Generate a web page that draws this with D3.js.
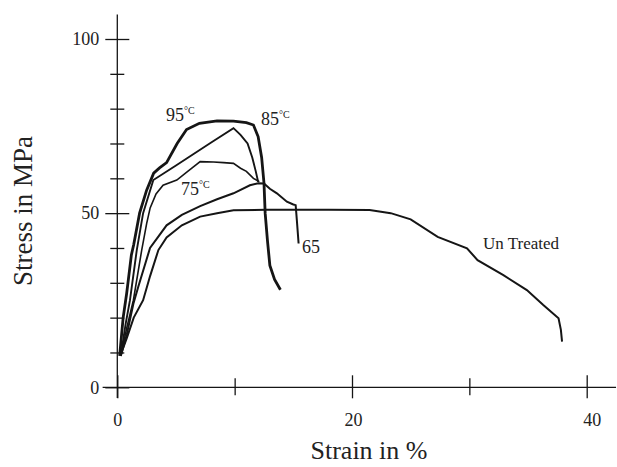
<!DOCTYPE html>
<html>
<head>
<meta charset="utf-8">
<script src="https://cdn.jsdelivr.net/npm/d3@7"></script>
<style>
  html, body { margin: 0; padding: 0; background: #fff; }
  svg { display: block; }
  text { font-family: "Liberation Serif", "Times New Roman", serif; fill: #222; }
</style>
</head>
<body>
<svg id="chart" width="617" height="467"></svg>
<script>
// ---- data (strain %, stress MPa) ----
const strain95 = [0.2, 0.5, 0.8, 1.2, 1.4, 1.9, 2.5, 3.1, 3.6, 4.2, 5.1, 5.9, 7.0, 8.5, 9.9, 11.0, 11.6, 12.0, 12.3, 12.5, 12.6, 12.8, 13.0, 13.4, 13.9];
const stress95 = [9, 20, 27, 38, 41, 50, 56.6, 61.5, 63, 64.5, 70, 74, 75.8, 76.5, 76.4, 76, 75.3, 72, 66, 58.6, 50, 42, 35, 31, 28];

const strain85 = [0.3, 0.7, 1.08, 1.66, 2.2, 3.07, 5.0, 6.5, 8.0, 9.9, 10.5, 11.1, 11.5, 11.8, 12.0];
const stress85 = [9, 18, 25, 39.4, 50, 59.5, 63.7, 67, 70.3, 74.4, 72.5, 70, 66, 62, 59];

const strain75 = [0.3, 0.8, 1.37, 2.08, 2.5, 2.8, 3.3, 3.9, 5.07, 6.0, 7.06, 8.2, 9.05, 9.9, 10.5, 11.0, 11.6, 12.1];
const stress75 = [9, 17, 25, 39.4, 47, 51.5, 55.5, 58, 59.5, 62, 64.8, 64.7, 64.5, 64.3, 62.9, 62, 60, 59];

const strain65 = [0.3, 0.8, 1.37, 1.8, 2.79, 4.2, 5.5, 7.06, 8.5, 9.9, 11.3, 12.0, 12.5, 13.0, 13.6, 14.45, 15.0, 15.2, 15.3, 15.45];
const stress65 = [9, 15, 24, 29, 40, 46.5, 49.5, 52, 54, 55.7, 58, 58.6, 58.5, 57, 55.7, 53.3, 52.5, 52.3, 48, 41.3];

const strainUT = [0.25, 0.8, 1.4, 2.2, 2.8, 3.5, 4.2, 5.5, 7.06, 8.5, 9.9, 12.7, 15, 18, 21.5, 23.3, 25.0, 27.3, 29.8, 30.7, 32.9, 34.9, 36.3, 37.6, 37.8, 37.9];
const stressUT = [9, 14, 20, 25, 32, 39.4, 43, 46.5, 49, 50, 50.8, 51, 51, 51, 50.9, 50, 48.2, 43.2, 39.9, 36.5, 32.2, 27.9, 23.6, 19.8, 16.5, 13.1];

const seriesNames = ["95", "85", "75", "65", "Un Treated"];
const xTicks = [0, 10, 20, 30, 40];
const xTickLabels = ["0", "", "20", "", "40"];
const yTicks = [0, 10, 20, 30, 40, 50, 60, 70, 80, 90, 100];
const yTickLabels = ["0", "", "", "", "", "50", "", "", "", "", "100"];

// ---- drawing ----
const svg = d3.select("#chart");
const x = d3.scaleLinear().domain([0, 40]).range([117.3, 586.7]);
const y = d3.scaleLinear().domain([0, 100]).range([387.3, 39]);

const ink = "#151515";

// axis lines
svg.append("line").attr("x1", x(-1.25)).attr("x2", x(42.5))
  .attr("y1", y(0)).attr("y2", y(0)).attr("stroke", ink).attr("stroke-width", 1.3);
svg.append("line").attr("x1", x(0)).attr("x2", x(0))
  .attr("y1", y(-3.1)).attr("y2", y(107)).attr("stroke", ink).attr("stroke-width", 1.3);

// x axis
const xAxis = d3.axisBottom(x).tickValues(xTicks)
  .tickFormat((d, i) => xTickLabels[i]).tickSize(0).tickPadding(0);
const gx = svg.append("g").attr("transform", `translate(0,${y(0)})`).call(xAxis);
gx.select(".domain").remove();
gx.selectAll(".tick line")
  .attr("y1", (d) => d % 20 === 0 ? -12 : -9)
  .attr("y2", (d) => d % 20 === 0 ? 11 : 8)
  .attr("stroke", ink).attr("stroke-width", 1.3);
gx.selectAll(".tick text").attr("y", 39).attr("dy", 0)
  .attr("dx", (d) => d === 40 ? 5 : (d === 20 ? 1 : 0))
  .style("font-size", "18px").style("font-family", "Liberation Serif").attr("fill", "#222");

// y axis
const yAxis = d3.axisLeft(y).tickValues(yTicks)
  .tickFormat((d, i) => yTickLabels[i]).tickSize(0).tickPadding(0);
const gy = svg.append("g").attr("transform", `translate(${x(0)},0)`).call(yAxis);
gy.select(".domain").remove();
gy.selectAll(".tick line")
  .attr("x1", (d) => d % 50 === 0 ? -12 : -7)
  .attr("x2", (d) => d % 50 === 0 ? 12 : 7)
  .attr("stroke", ink).attr("stroke-width", 1.3);
gy.selectAll(".tick text").attr("x", -18)
  .style("font-size", "18px").style("font-family", "Liberation Serif").attr("fill", "#222");

// curves
const line = d3.line().x(d => x(d[0])).y(d => y(d[1])).curve(d3.curveLinear);
const curves = [
  { name: seriesNames[0], xs: strain95, ys: stress95, w: 2.8 },
  { name: seriesNames[1], xs: strain85, ys: stress85, w: 1.9 },
  { name: seriesNames[2], xs: strain75, ys: stress75, w: 1.6 },
  { name: seriesNames[3], xs: strain65, ys: stress65, w: 2.0 },
  { name: seriesNames[4], xs: strainUT, ys: stressUT, w: 2.0 }
];
curves.forEach(c => {
  svg.append("path")
    .datum(c.xs.map((v, i) => [v, c.ys[i]]))
    .attr("d", line)
    .attr("fill", "none")
    .attr("stroke", ink)
    .attr("stroke-width", c.w)
    .attr("stroke-linejoin", "miter");
});

// curve labels
function tempLabel(px, py, num) {
  const t = svg.append("text").attr("x", px).attr("y", py).style("font-size", "18px");
  t.append("tspan").text(num);
  t.append("tspan").attr("dy", -7).style("font-size", "10px").text("°C");
}
tempLabel(166, 121, "95");
tempLabel(261, 125, "85");
tempLabel(181, 195, "75");
svg.append("text").attr("x", 302).attr("y", 253).style("font-size", "18px").text("65");
svg.append("text").attr("x", 483).attr("y", 249).style("font-size", "17px").text("Un Treated");

// axis titles
svg.append("text").attr("x", 369).attr("y", 459).attr("text-anchor", "middle")
  .style("font-size", "26px").text("Strain in %");
svg.append("text").attr("transform", "translate(32,211) rotate(-90)")
  .attr("text-anchor", "middle").style("font-size", "27px").text("Stress in MPa");
</script>
</body>
</html>
